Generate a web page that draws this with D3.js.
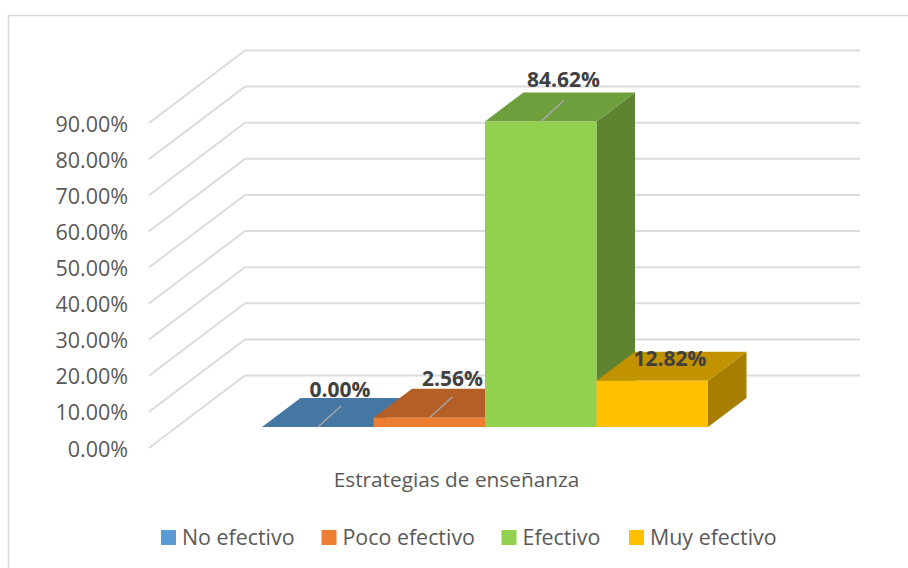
<!DOCTYPE html>
<html>
<head>
<meta charset="utf-8">
<script src="https://cdn.jsdelivr.net/npm/d3@7"></script>
<style>
  html, body { margin: 0; padding: 0; background: #fff; }
  svg { display: block; }
  text { font-family: "Open Sans", sans-serif; }
</style>
</head>
<body>
<div id="chart"></div>
<script>
const categories = ["No efectivo", "Poco efectivo", "Efectivo", "Muy efectivo"];
const values = [0, 2.56, 84.62, 12.82];
const valueLabels = ["0.00%", "2.56%", "84.62%", "12.82%"];
const ticks = [0, 10, 20, 30, 40, 50, 60, 70, 80, 90];
const axisTitle = "Estrategias de enseñanza";
const frontColors = ["#5b9bd5", "#ed7d31", "#92d050", "#ffc000"];
const topColors = ["#4676a2", "#b45f25", "#6f9e3d", "#c29200"];
const sideColors = ["#3d668d", "#9c5220", "#5e8432", "#a87e00"];

const width = 908;
const height = 568;

const svg = d3.select("#chart").append("svg")
  .attr("width", width)
  .attr("height", height);

// marco: solo arriba e izquierda quedan dentro de la imagen
svg.append("path")
  .attr("d", `M8.5,${height}V15.5H${width}`)
  .attr("fill", "none")
  .attr("stroke", "#d9d9d9")
  .attr("stroke-width", 1.5);

// --- escalas ---
const y = d3.scaleLinear().domain([0, 90]).range([448, 123]);
const x = d3.scaleBand().domain(categories).range([262, 708]);

// proyeccion de la profundidad
const wallDx = 96, wallDy = 72.5;
const barDx = 38.5, barDy = 29;
const baseY = 427;
const h = v => baseY - (y(0) - y(v));

// --- rejilla ---
svg.append("g").selectAll("path")
  .data(ticks)
  .join("path")
  .attr("d", d => `M149,${y(d)}L${149 + wallDx},${y(d) - wallDy}H860`)
  .attr("fill", "none")
  .attr("stroke", "#dcdcdc")
  .attr("stroke-width", 2);

svg.append("g").selectAll("text")
  .data(ticks)
  .join("text")
  .attr("x", 128)
  .attr("y", d => y(d) + 8.5)
  .attr("text-anchor", "end")
  .attr("font-size", "21.5px")
  .attr("fill", "#595959")
  .text(d => d.toFixed(2) + "%");

// --- barras ---
const bars = svg.append("g").selectAll("g")
  .data(categories)
  .join("g");

bars.append("path")
  .attr("d", (d, i) => {
    const x1 = x(d) + x.bandwidth(), t = h(values[i]);
    return `M${x1},${t}l${barDx},${-barDy}V${baseY - barDy}l${-barDx},${barDy}Z`;
  })
  .attr("fill", (d, i) => sideColors[i]);

bars.append("path")
  .attr("d", (d, i) => {
    const t = h(values[i]);
    return `M${x(d)},${t}l${barDx},${-barDy}h${x.bandwidth()}l${-barDx},${barDy}Z`;
  })
  .attr("fill", (d, i) => topColors[i]);

bars.append("rect")
  .attr("x", d => x(d))
  .attr("y", (d, i) => h(values[i]))
  .attr("width", x.bandwidth())
  .attr("height", (d, i) => baseY - h(values[i]))
  .attr("fill", (d, i) => frontColors[i]);

// lineas guia (la ultima etiqueta no tiene)
bars.filter((d, i) => i < 3).append("line")
  .attr("x1", d => x(d) + 56)
  .attr("y1", (d, i) => h(values[i]))
  .attr("x2", d => x(d) + 79)
  .attr("y2", (d, i) => h(values[i]) - 21)
  .attr("stroke", "#a6a6a6")
  .attr("stroke-width", 1.5);

// etiquetas movidas a mano, como en el original
const labelDx = [78, 79, 78.5, 73.5];
const labelDy = [30, 32, 34, 15];

bars.append("text")
  .attr("x", (d, i) => x(d) + labelDx[i])
  .attr("y", (d, i) => h(values[i]) - labelDy[i])
  .attr("text-anchor", "middle")
  .attr("font-size", "21px")
  .attr("font-weight", "700")
  .attr("fill", "#404040")
  .text((d, i) => valueLabels[i]);

// --- titulo del eje ---
svg.append("text")
  .attr("x", 456.5)
  .attr("y", 487)
  .attr("text-anchor", "middle")
  .attr("font-size", "20.8px")
  .attr("fill", "#595959")
  .text(axisTitle);

// --- leyenda ---
const legendX = [161, 321.5, 501.5, 629];
const legend = svg.append("g").selectAll("g")
  .data(categories)
  .join("g")
  .attr("transform", (d, i) => `translate(${legendX[i]},530)`);

legend.append("rect")
  .attr("width", 15)
  .attr("height", 15)
  .attr("fill", (d, i) => frontColors[i]);

legend.append("text")
  .attr("x", 21)
  .attr("y", 15)
  .attr("font-size", "21.4px")
  .attr("fill", "#595959")
  .text(d => d);
</script>
</body>
</html>
